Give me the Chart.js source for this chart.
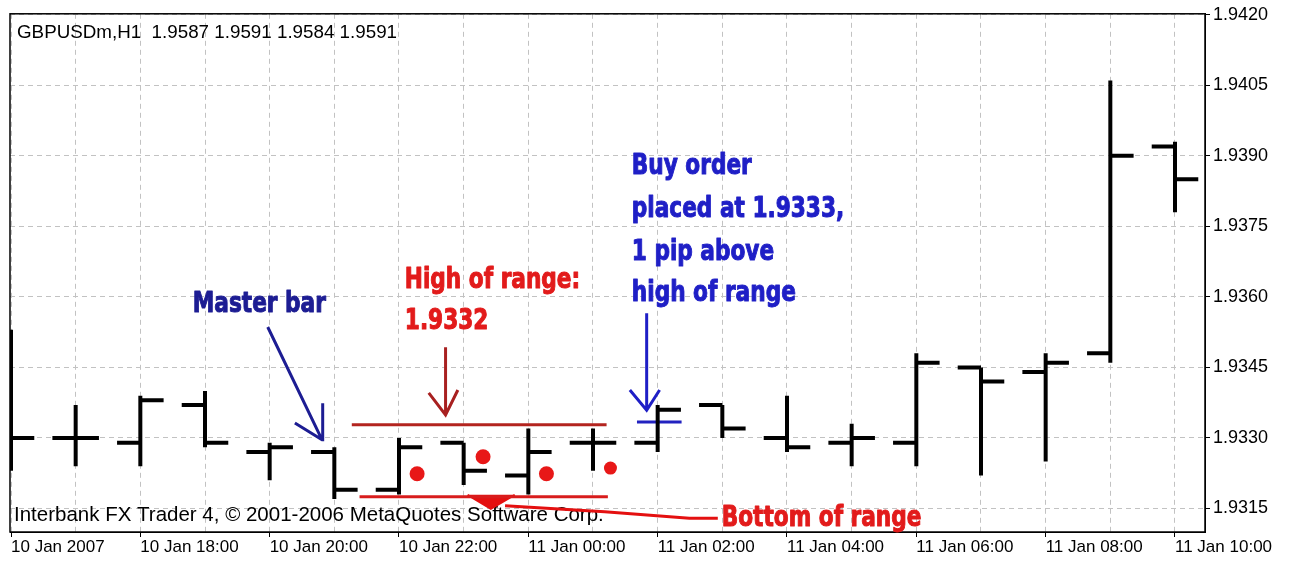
<!DOCTYPE html>
<html><head><meta charset="utf-8">
<script src="https://cdn.jsdelivr.net/npm/chart.js@4"></script>
<style>html,body{margin:0;padding:0;background:#fff}#wrap{width:1294px;height:563px;position:relative}</style>
</head><body><div id="wrap"><canvas id="c"></canvas></div>
<script>
// GBPUSD H1 bars, 10 Jan 16:00 .. 11 Jan 10:00
const timeLabels=['10 Jan 2007','10 Jan 17:00','10 Jan 18:00','10 Jan 19:00','10 Jan 20:00','10 Jan 21:00','10 Jan 22:00','10 Jan 23:00','11 Jan 00:00','11 Jan 01:00','11 Jan 02:00','11 Jan 03:00','11 Jan 04:00','11 Jan 05:00','11 Jan 06:00','11 Jan 07:00','11 Jan 08:00','11 Jan 09:00','11 Jan 10:00'];
const openP =[1.9330,1.9330,1.9329,1.9337,1.9327,1.9327,1.9319,1.9329,1.9322,1.9329,1.9329,1.9337,1.9330,1.9329,1.9329,1.9345,1.9344,1.9348,1.9392];
const highP =[1.9353,1.9337,1.9339,1.9340,1.9329,1.9328,1.9330,1.9329,1.9332,1.9332,1.9337,1.9337,1.9339,1.9333,1.9348,1.9345,1.9348,1.9406,1.9393];
const lowP  =[1.9323,1.9324,1.9324,1.9328,1.9321,1.9317,1.9318,1.9320,1.9318,1.9323,1.9327,1.9330,1.9327,1.9324,1.9324,1.9322,1.9325,1.9346,1.9378];
const closeP=[1.9330,1.9330,1.9338,1.9329,1.9328,1.9319,1.9328,1.9323,1.9327,1.9329,1.9336,1.9332,1.9328,1.9330,1.9346,1.9342,1.9346,1.9390,1.9385];
const yTicks=[1.9315,1.9330,1.9345,1.9360,1.9375,1.9390,1.9405,1.9420];
const chartTitle='GBPUSDm,H1  1.9587 1.9591 1.9584 1.9591';
const footerText='Interbank FX Trader 4, \u00a9 2001-2006 MetaQuotes Software Corp.';
// marks drawn on the chart (bar offset, price)
const dotX=[6.28,7.30,8.28,9.27];
const dotY=[1.93224,1.93260,1.93224,1.93236];
const rangeHigh=1.93328, rangeLow=1.93175, buyLevel=1.93334;

const TICK=0.36;
const SANS="'Liberation Sans', Arial, sans-serif";
const NOTEFONT="bold 29px 'Liberation Sans Narrow', 'DejaVu Sans Condensed', sans-serif";
const NARROW=0.83; // squeeze for the condensed note lettering

function polyline(parts){
  const out=[];
  parts.forEach(p=>{ p.forEach(q=>out.push({x:q[0],y:q[1]})); out.push({x:p[p.length-1][0],y:null}); });
  return out;
}
const vert=polyline(highP.map((h,i)=>[[i,lowP[i]],[i,h]]));
const opens=polyline(openP.map((o,i)=>[[i-TICK,o],[i,o]]));
const closes=polyline(closeP.map((c,i)=>[[i,c],[i+TICK,c]]));

function lineDs(data,color,width,extra){
  return Object.assign({data,borderColor:color,backgroundColor:color,borderWidth:width,pointRadius:0,tension:0,spanGaps:false,fill:false,borderCapStyle:'butt'},extra||{});
}

const notes=[
  {text:'Master bar',x:2.81,y:1.93568,color:'#1d1d93'},
  {text:'High of range:',x:6.09,y:1.93618,color:'#e21b1b'},
  {text:'1.9332',x:6.09,y:1.93531,color:'#e21b1b'},
  {text:'Buy order',x:9.60,y:1.93861,color:'#1f1fc6'},
  {text:'placed at 1.9333,',x:9.60,y:1.93769,color:'#1f1fc6'},
  {text:'1 pip above',x:9.60,y:1.93678,color:'#1f1fc6'},
  {text:'high of range',x:9.60,y:1.93591,color:'#1f1fc6'},
  {text:'Bottom of range',x:10.99,y:1.93113,color:'#e21b1b'}
];

const frame={id:'frame',
  beforeDatasetsDraw(c){
    const ctx=c.ctx, a=c.chartArea;
    ctx.save();
    ctx.fillStyle='#000';
    ctx.textBaseline='alphabetic';
    ctx.font='18.8px '+SANS;
    ctx.fillText(chartTitle,a.left+7,38);
    ctx.font='20.5px '+SANS;
    ctx.fillText(footerText,a.left+4,521);
    ctx.restore();
  },
  afterDraw(c){
    const ctx=c.ctx, a=c.chartArea;
    ctx.save();
    ctx.strokeStyle='#000'; ctx.lineWidth=1.5;
    ctx.strokeRect(a.left,a.top,a.right-a.left,a.bottom-a.top);
    ctx.font=NOTEFONT; ctx.textBaseline='alphabetic'; ctx.lineJoin='round';
    const xs=c.scales.x, ys=c.scales.y;
    notes.forEach(n=>{
      ctx.save();
      ctx.translate(xs.getPixelForValue(n.x),ys.getPixelForValue(n.y));
      ctx.scale(NARROW,1);
      ctx.fillStyle=n.color; ctx.strokeStyle=n.color; ctx.lineWidth=1;
      ctx.fillText(n.text,0,0);
      ctx.strokeText(n.text,0,0);
      ctx.restore();
    });
    ctx.restore();
  }
};

new Chart(document.getElementById('c'),{
  type:'line',
  data:{datasets:[
    lineDs([{x:5.27,y:rangeHigh},{x:9.21,y:rangeHigh}],'#b3241f',3),
    lineDs([{x:5.39,y:rangeLow},{x:9.23,y:rangeLow}],'#d81c1c',3),
    lineDs(vert,'#000',4),
    lineDs(opens,'#000',4),
    lineDs(closes,'#000',4),
    lineDs([{x:9.68,y:buyLevel},{x:10.37,y:buyLevel}],'#2222c0',3),
    lineDs(dotX.map((x,i)=>({x,y:dotY[i]})),'#e81818',0,{showLine:false,pointRadius:[7.5,7.5,7.5,6.5],pointBorderWidth:0}),
    lineDs([{x:7.06,y:1.93179},{x:7.42,y:1.93149},{x:7.79,y:1.93179}],'#e41010',2,{fill:{value:1.93179}}),
    lineDs(polyline([[[7.64,1.93156],[9.18,1.93143],[10.49,1.93129],[10.93,1.93129]]]),'#e41010',3),
    lineDs(polyline([[[3.97,1.93536],[4.81,1.93296]],[[4.39,1.93332],[4.81,1.93296],[4.82,1.93374]]]),'#1d1d93',3),
    lineDs(polyline([[[6.72,1.93493],[6.72,1.93349]],[[6.46,1.93396],[6.72,1.93349],[6.91,1.93402]]]),'#a82020',3),
    lineDs(polyline([[[9.83,1.93565],[9.83,1.93359]],[[9.57,1.93402],[9.83,1.93359],[10.03,1.93402]]]),'#1f1fc6',3)
  ]},
  options:{
    responsive:true,maintainAspectRatio:false,animation:false,events:[],
    layout:{padding:{left:10,top:13,right:0,bottom:0}},
    plugins:{legend:{display:false},tooltip:{enabled:false}},
    scales:{
      x:{type:'linear',min:-0.0155,max:18.464,
        afterBuildTicks:s=>{s.ticks=timeLabels.map((_,i)=>({value:i}));},
        afterFit:s=>{s.height=31;},
        ticks:{autoSkip:false,maxRotation:0,align:'start',padding:0,color:'#000',font:{family:SANS,size:17},
          callback:v=>v%2===0?timeLabels[v]:''},
        grid:{color:'#c2c2c2',tickLength:5,tickColor:c=>(c.tick&&c.tick.value%2===0)?'#000':'rgba(0,0,0,0)'},
        border:{color:'#000',dash:[5,4]}
      },
      y:{position:'right',min:1.9310,max:1.94202,
        afterBuildTicks:s=>{s.ticks=yTicks.map(v=>({value:v}));},
        afterFit:s=>{s.width=89;},
        ticks:{padding:3,color:'#000',font:{family:SANS,size:18},callback:v=>v.toFixed(4)},
        grid:{color:'#c2c2c2',tickLength:5,tickColor:'#000'},
        border:{color:'#000',dash:[5,4]}
      }
    }
  },
  plugins:[frame]
});
</script></body></html>
